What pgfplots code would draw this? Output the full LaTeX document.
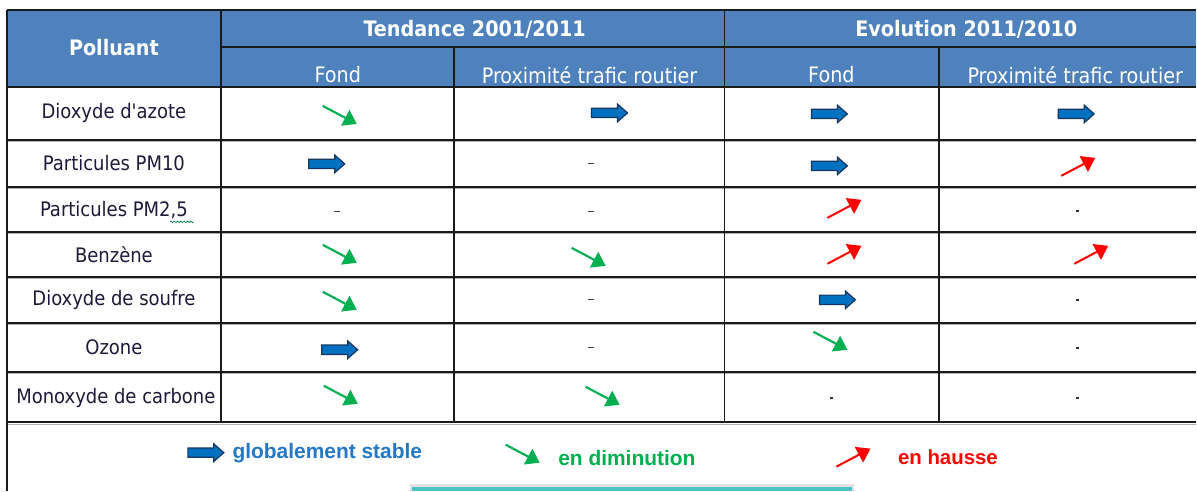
\documentclass[border=0pt]{standalone}
\usepackage{fontspec}
\setmainfont{DejaVu Sans Condensed}
\newfontfamily\bodyfont{DejaVu Sans Condensed}
\newfontfamily\legfont{Liberation Sans}
\usepackage{pgfplots}
\pgfplotsset{compat=1.18}
\usetikzlibrary{decorations.pathmorphing}
\definecolor{hdrblue}{HTML}{4F81BD}
\definecolor{arrblue}{HTML}{0070C0}
\definecolor{arrnavy}{HTML}{17375E}
\definecolor{agreen}{HTML}{00B050}
\definecolor{ared}{HTML}{FF0000}
\definecolor{legblue}{HTML}{2478C6}
\definecolor{gridc}{HTML}{1A1A1A}
\definecolor{teal}{HTML}{4CC3C4}
\definecolor{bodytext}{HTML}{1E1A3A}

% 1 px = 0.75 pt
\pgfdeclareplotmark{stable}{%
  \pgfpathmoveto{\pgfqpoint{-13.5pt}{3.5pt}}%
  \pgfpathlineto{\pgfqpoint{6pt}{3.5pt}}%
  \pgfpathlineto{\pgfqpoint{6pt}{6.6pt}}%
  \pgfpathlineto{\pgfqpoint{13.5pt}{0pt}}%
  \pgfpathlineto{\pgfqpoint{6pt}{-6.6pt}}%
  \pgfpathlineto{\pgfqpoint{6pt}{-3.5pt}}%
  \pgfpathlineto{\pgfqpoint{-13.5pt}{-3.5pt}}%
  \pgfpathclose
  \pgfusepathqfillstroke}
\pgfdeclareplotmark{down}{%
  \pgfpathmoveto{\pgfqpoint{-12.75pt}{7.5pt}}%
  \pgfpathlineto{\pgfqpoint{4.6pt}{-1.7pt}}%
  \pgfusepathqstroke
  \pgfpathmoveto{\pgfqpoint{12.75pt}{-6pt}}%
  \pgfpathlineto{\pgfqpoint{7.3pt}{4.5pt}}%
  \pgfpathlineto{\pgfqpoint{1.0pt}{-7.35pt}}%
  \pgfpathclose
  \pgfusepathqfill}
\pgfdeclareplotmark{up}{%
  \pgfpathmoveto{\pgfqpoint{-12.75pt}{-7.5pt}}%
  \pgfpathlineto{\pgfqpoint{4.6pt}{1.7pt}}%
  \pgfusepathqstroke
  \pgfpathmoveto{\pgfqpoint{12.75pt}{6pt}}%
  \pgfpathlineto{\pgfqpoint{1.0pt}{7.35pt}}%
  \pgfpathlineto{\pgfqpoint{7.3pt}{-4.5pt}}%
  \pgfpathclose
  \pgfusepathqfill}
\pgfdeclareplotmark{dash}{%
  \pgfpathmoveto{\pgfqpoint{-2.2pt}{0pt}}%
  \pgfpathlineto{\pgfqpoint{2.2pt}{0pt}}%
  \pgfusepathqstroke}
\pgfdeclareplotmark{dot}{%
  \pgfpathmoveto{\pgfqpoint{-1.2pt}{0pt}}%
  \pgfpathlineto{\pgfqpoint{1.2pt}{0pt}}%
  \pgfusepathqstroke}

\begin{document}
\begin{tikzpicture}
\begin{axis}[
  scale only axis, width=897.75pt, height=368.25pt,
  xmin=0, xmax=1197, ymin=0, ymax=491, y dir=reverse,
  hide axis, clip=false,
  unbounded coords=jump,
]
% background
\addplot[fill=white, draw=none] coordinates {(0,0) (1197,0) (1197,491) (0,491)} -- cycle;
% header fill
\addplot[fill=hdrblue, draw=none] coordinates {(7,10) (1197,10) (1197,87) (7,87)} -- cycle;
% teal bar at bottom
\addplot[fill=black!12, draw=none] coordinates {(410,484) (855,484) (855,491) (410,491)} -- cycle;
\addplot[fill=teal, draw=none] coordinates {(412,487) (853,487) (853,491) (412,491)} -- cycle;
% light shadow lines under row borders
\addplot[black!30, line width=0.8pt] coordinates {
 (7,142) (1197,142) (nan,nan)
 (7,189) (1197,189) (nan,nan)
 (7,234) (1197,234) (nan,nan)
 (7,279) (1197,279) (nan,nan)
 (7,325) (1197,325) (nan,nan)
 (7,374) (1197,374) (nan,nan)
 (7,425) (1197,425)
};
% grid lines
\addplot[gridc, line width=1.3pt] coordinates {
 (7,10) (1197,10) (nan,nan)
 (221,47) (1197,47) (nan,nan)
 (7,87) (1197,87) (nan,nan)
 (7,140) (1197,140) (nan,nan)
 (7,187) (1197,187) (nan,nan)
 (7,232) (1197,232) (nan,nan)
 (7,277) (1197,277) (nan,nan)
 (7,323) (1197,323) (nan,nan)
 (7,372) (1197,372) (nan,nan)
 (7,422) (1197,422) (nan,nan)
 (7,10) (7,491) (nan,nan)
 (221,10) (221,422) (nan,nan)
 (454,47) (454,422) (nan,nan)
 (725,10) (725,422) (nan,nan)
 (940,47) (940,422)
};
% stable (blue block arrows)
\addplot[only marks, mark=stable, mark options={fill=arrblue, draw=arrnavy, line width=0.9pt}] coordinates {
 (610,113) (830,114) (1077,114)
 (327,164) (830,166)
 (838,300)
 (340,350)
 (206,453)
};
% decrease (green)
\addplot[only marks, mark=down, mark options={color=agreen, line width=1.6pt}] coordinates {
 (340,116)
 (340,255) (589,258)
 (340,302)
 (831,342)
 (341,396) (603,397)
 (523,455)
};
% increase (red)
\addplot[only marks, mark=up, mark options={color=ared, line width=1.5pt}] coordinates {
 (1079,166)
 (845,208)
 (845,254) (1092,254)
 (854,457)
};
% no data (dash)
\addplot[only marks, mark=dash, mark options={color=black!75, line width=0.9pt}] coordinates {
 (591,164)
 (337,212) (591,212)
 (591,300)
 (591,348)
};
\addplot[only marks, mark=dot, mark options={color=black!80, line width=1.2pt}] coordinates {
 (1078,211) (1078,300) (1078,348)
 (832,398) (1078,398)
};
% header texts
\node[text=white, font=\bodyfont\bfseries\fontsize{16}{18}\selectfont] at (114,48) {Polluant};
\node[text=white, font=\bodyfont\bfseries\fontsize{16}{18}\selectfont] at (475,29) {Tendance 2001/2011};
\node[text=white, font=\bodyfont\bfseries\fontsize{16}{18}\selectfont] at (967,29) {Evolution 2011/2010};
\node[text=white, font=\bodyfont\fontsize{16}{18}\selectfont] at (338,75) {Fond};
\node[text=white, font=\bodyfont\fontsize{16}{18}\selectfont] at (590,75) {Proximité trafic routier};
\node[text=white, font=\bodyfont\fontsize{16}{18}\selectfont] at (832,75) {Fond};
\node[text=white, font=\bodyfont\fontsize{16}{18}\selectfont] at (1076,75) {Proximité trafic routier};
% row labels
\begin{scope}[every node/.style={text=bodytext, font=\bodyfont\fontsize{15}{17}\selectfont}]
\node at (114,113) {Dioxyde d'azote};
\node at (114,163) {Particules PM10};
\node at (114,210) {Particules PM2,5};
\node at (114,255) {Benzène};
\node at (114,300) {Dioxyde de soufre};
\node at (114,347) {Ozone};
\node at (116,398) {Monoxyde de carbone};
\end{scope}
\draw[agreen!70!black, line width=0.5pt, decorate, decoration={snake, amplitude=0.6pt, segment length=2.5pt}] (axis cs:170,222) -- (axis cs:194,222);
% legend texts
\node[anchor=west, text=legblue, font=\legfont\bfseries\fontsize{15.7}{18}\selectfont] at (228,453) {globalement stable};
\node[anchor=west, text=agreen, font=\legfont\bfseries\fontsize{15.7}{18}\selectfont] at (554,458) {en diminution};
\node[anchor=west, text=ared, font=\legfont\bfseries\fontsize{15.3}{18}\selectfont] at (894,458) {en hausse};
\end{axis}
\end{tikzpicture}
\end{document}
